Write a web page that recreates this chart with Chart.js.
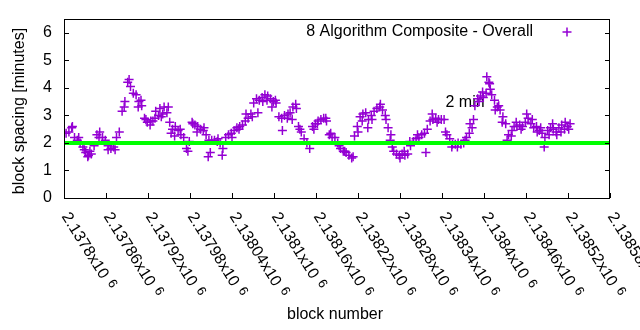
<!DOCTYPE html>
<html>
<head>
<meta charset="utf-8">
<title>block spacing</title>
<script src="https://cdn.jsdelivr.net/npm/chart.js@4"></script>
<style>
html, body { margin: 0; padding: 0; background: #fff; }
#wrap { width: 640px; height: 330px; position: relative; }
</style>
</head>
<body>
<div id="wrap"><canvas id="chart"></canvas></div>
<script>
// block numbers and spacing (minutes)
const mainBlocks = [
    2137803, 2137807, 2137811, 2137815, 2137819, 2137823, 2137827, 2137831, 2137835, 2137839,
    2137843, 2137847, 2137851, 2137855, 2137859, 2137863, 2137867, 2137871, 2137875, 2137879,
    2137883, 2137887, 2137891, 2137895, 2137899, 2137903, 2137907, 2137911, 2137915, 2137919,
    2137923, 2137927, 2137931, 2137935, 2137939, 2137943, 2137947, 2137951, 2137955, 2137959,
    2137963, 2137967, 2137971, 2137975, 2137979, 2137983, 2137987, 2137991, 2137995, 2137999,
    2138003, 2138007, 2138011, 2138015, 2138019, 2138023, 2138027, 2138031, 2138035, 2138039,
    2138043, 2138047, 2138051, 2138055, 2138059, 2138063, 2138067, 2138071, 2138075, 2138079,
    2138083, 2138087, 2138091, 2138095, 2138099, 2138103, 2138107, 2138111, 2138115, 2138119,
    2138123, 2138127, 2138131, 2138135, 2138139, 2138143, 2138147, 2138151, 2138155, 2138159,
    2138163, 2138167, 2138171, 2138175, 2138179, 2138183, 2138187, 2138191, 2138195, 2138199,
    2138203, 2138207, 2138211, 2138215, 2138219, 2138223, 2138227, 2138231, 2138235, 2138239,
    2138243, 2138247, 2138251, 2138255, 2138259, 2138263, 2138267, 2138271, 2138275, 2138279,
    2138283, 2138287, 2138291, 2138295, 2138299, 2138303, 2138307, 2138311, 2138315, 2138319,
    2138323, 2138327, 2138331, 2138335, 2138339, 2138343, 2138347, 2138351, 2138355, 2138359,
    2138363, 2138367, 2138371, 2138375, 2138379, 2138383, 2138387, 2138391, 2138395, 2138399,
    2138403, 2138407, 2138411, 2138415, 2138419, 2138423, 2138427, 2138431, 2138435, 2138439,
    2138443, 2138447, 2138451, 2138455, 2138459, 2138463, 2138467, 2138471, 2138475, 2138479,
    2138483, 2138487, 2138491, 2138495, 2138499, 2138503, 2138507, 2138511, 2138515, 2138519,
    2138523
];
const mainSpacing = [
    2.35, 2.4, 2.55, 2.2, 2.1, 2.0, 1.85, 1.65, 1.55, 1.6,
    1.9, 2.3, 2.4, 2.2, 2.1, 1.9, 1.8, 1.85, 2.2, 2.4,
    3.15, 3.5, 4.2, 4.05, 3.8, 3.75, 3.5, 3.35, 2.9, 2.75,
    2.65, 2.8, 3.15, 3.0, 2.95, 3.3, 3.1, 2.75, 2.5, 2.6,
    2.45, 2.3, 2.2, 1.8, 2.05, 2.75, 2.65, 2.6, 2.5, 2.45,
    2.3, 2.1, 2.1, 2.1, 2.05, 2.0, 1.8, 2.2, 2.3, 2.35,
    2.45, 2.55, 2.6, 2.65, 2.8, 2.9, 3.05, 3.45, 3.6, 3.55,
    3.65, 3.75, 3.7, 3.6, 3.5, 3.45, 2.95, 2.9, 3.0, 2.9,
    3.1, 3.3, 3.4, 2.6, 2.4, 2.15, 2.0, 1.8, 2.6, 2.7,
    2.8, 2.85, 2.9, 2.8, 2.3, 2.2, 2.2, 2.0, 1.8, 1.7,
    1.65, 1.55, 1.45, 2.25, 2.6, 2.95, 3.05, 3.1, 2.85, 3.0,
    3.15, 3.25, 3.3, 3.2, 3.0, 2.55, 2.3, 1.7, 1.6, 1.55,
    1.6, 1.55, 1.6, 1.9, 2.05, 2.15, 2.2, 2.3, 2.35, 2.5,
    2.8, 2.85, 2.9, 2.85, 2.85, 2.85, 2.3, 2.15, 1.95, 1.95,
    2.0, 1.95, 2.0, 2.2, 2.35, 2.55, 3.35, 3.6, 3.7, 3.65,
    3.8, 4.2, 3.75, 3.55, 3.3, 3.2, 2.95, 2.7, 2.3, 2.25,
    2.6, 2.6, 2.65, 2.6, 2.75, 2.9, 2.7, 2.55, 2.6, 2.45,
    2.35, 2.2, 2.45, 2.55, 2.5, 2.4, 2.55, 2.65, 2.5, 2.6,
    2.7
];
// the scatter around the main trace
const extraBlocks = [
    2137812, 2137821, 2137829, 2137834, 2137837, 2137850, 2137863, 2137873, 2137886, 2137893,
    2137906, 2137910, 2137917, 2137924, 2137930, 2137937, 2137941, 2137949, 2137953, 2137958,
    2137966, 2137977, 2137984, 2137990, 2138000, 2138006, 2138009, 2138020, 2138026, 2138040,
    2138050, 2138060, 2138069, 2138077, 2138084, 2138090, 2138097, 2138102, 2138112, 2138120,
    2138126, 2138132, 2138137, 2138157, 2138162, 2138174, 2138181, 2138193, 2138201, 2138213,
    2138220, 2138226, 2138234, 2138240, 2138252, 2138260, 2138266, 2138269, 2138280, 2138286,
    2138294, 2138305, 2138317, 2138326, 2138333, 2138345, 2138354, 2138362, 2138373, 2138380,
    2138385, 2138393, 2138398, 2138404, 2138408, 2138409, 2138416, 2138421, 2138426, 2138433,
    2138440, 2138446, 2138453, 2138461, 2138469, 2138476, 2138481, 2138486, 2138493, 2138498,
    2138504, 2138510, 2138516, 2138521
];
const extraSpacing = [
    2.6, 2.2, 1.75, 1.5, 1.7, 2.2, 1.75, 1.75, 3.3, 4.3,
    3.3, 3.55, 2.85, 2.8, 2.9, 3.25, 3.05, 3.3, 2.35, 2.25,
    2.5, 1.7, 2.7, 2.4, 2.55, 1.5, 1.65, 2.15, 1.55, 2.2,
    2.5, 3.05, 2.95, 3.1, 3.5, 3.55, 3.3, 3.55, 2.45, 3.05,
    2.85, 3.25, 2.5, 2.5, 2.7, 2.9, 2.35, 1.9, 1.7, 1.5,
    2.4, 2.8, 2.55, 2.85, 3.4, 2.85, 2.1, 1.85, 1.45, 1.7,
    2.05, 2.3, 1.65, 3.05, 2.75, 2.4, 1.85, 1.85, 2.1, 2.7,
    2.85, 3.5, 3.85, 4.4, 4.15, 3.95, 3.2, 3.35, 2.75, 2.1,
    2.45, 2.75, 2.5, 3.05, 2.85, 2.4, 2.55, 1.85, 2.3, 2.7,
    2.3, 2.4, 2.75, 2.5
];
// target line
const targetBlocks = [2137800, 2138580];
const targetSpacing = [2, 2];

const xTicks = [2137800, 2137860, 2137920, 2137980, 2138040, 2138100, 2138160,
    2138220, 2138280, 2138340, 2138400, 2138460, 2138520, 2138580];
const xTickLabels = ['2.1378', '2.13786', '2.13792', '2.13798', '2.13804', '2.1381', '2.13816',
    '2.13822', '2.13828', '2.13834', '2.1384', '2.13846', '2.13852', '2.13858'];
const yTicks = [0, 1, 2, 3, 4, 5, 6];

const seriesName = '8 Algorithm Composite - Overall';
const targetLabel = '2 min';
const targetLabelAt = { x: 2138345, y: 3.45 };

const FONT = '16px "Liberation Sans", Arial, sans-serif';
const PURPLE = '#9400d3';

function drawCross(ctx, x, y, r) {
    ctx.beginPath();
    ctx.moveTo(x - r, y); ctx.lineTo(x + r, y);
    ctx.moveTo(x, y - r); ctx.lineTo(x, y + r);
    ctx.stroke();
}

// gnuplot style frame, ticks, labels and key
const gnuplotFrame = {
    id: 'gnuplotFrame',
    beforeDatasetsDraw(chart) {
        const { ctx, scales: { x, y } } = chart;
        ctx.save();
        ctx.font = FONT;
        ctx.fillStyle = '#000';
        ctx.textAlign = 'left';
        ctx.textBaseline = 'middle';
        ctx.fillText(targetLabel, x.getPixelForValue(targetLabelAt.x), y.getPixelForValue(targetLabelAt.y));
        ctx.restore();
    },
    afterDraw(chart) {
        const { ctx, chartArea: a, scales: { x, y } } = chart;
        ctx.save();
        ctx.strokeStyle = '#000';
        ctx.lineWidth = 1;
        ctx.strokeRect(a.left + 0.5, a.top + 0.5, a.right - a.left - 1, a.bottom - a.top);

        ctx.beginPath();
        yTicks.forEach(v => {
            const py = Math.round(y.getPixelForValue(v)) + 0.5;
            ctx.moveTo(a.left, py); ctx.lineTo(a.left + 5, py);
            ctx.moveTo(a.right, py); ctx.lineTo(a.right - 5, py);
        });
        xTicks.forEach(v => {
            const px = Math.round(x.getPixelForValue(v)) + 0.5;
            ctx.moveTo(px, a.bottom); ctx.lineTo(px, a.bottom - 5);
        });
        ctx.stroke();

        ctx.fillStyle = '#000';
        ctx.font = FONT;
        ctx.textAlign = 'right';
        ctx.textBaseline = 'middle';
        yTicks.forEach(v => {
            ctx.fillText(String(v), a.left - 12, y.getPixelForValue(v));
        });

        // rotated x tick labels with exponent
        xTicks.forEach((v, i) => {
            const px = x.getPixelForValue(v);
            ctx.save();
            ctx.translate(px + 1, a.bottom + 16);
            ctx.rotate(Math.PI * 58 / 180);
            ctx.textAlign = 'left';
            ctx.font = FONT;
            const base = xTickLabels[i] + 'x10';
            ctx.fillText(base, 0, 0);
            const w = ctx.measureText(base).width;
            ctx.font = '13px "Liberation Sans", Arial, sans-serif';
            ctx.fillText('6', w + 6, -3);
            ctx.restore();
        });

        // axis titles
        ctx.font = FONT;
        ctx.textAlign = 'center';
        ctx.fillText('block number', 335, 315);
        ctx.save();
        ctx.translate(20, 111);
        ctx.rotate(-Math.PI / 2);
        ctx.fillText('block spacing [minutes]', 0, 0);
        ctx.restore();

        // key
        ctx.textAlign = 'right';
        ctx.fillText(seriesName, 533, 32);
        ctx.strokeStyle = PURPLE;
        ctx.lineWidth = 1.5;
        drawCross(ctx, 567, 32, 4.5);
        ctx.restore();
    }
};

const points = mainBlocks.map((b, i) => ({ x: b, y: mainSpacing[i] }))
    .concat(extraBlocks.map((b, i) => ({ x: b, y: extraSpacing[i] })));
const target = targetBlocks.map((b, i) => ({ x: b, y: targetSpacing[i] }));

new Chart(document.getElementById('chart'), {
    type: 'scatter',
    data: {
        datasets: [
            {
                label: targetLabel,
                type: 'line',
                data: target,
                borderColor: '#00ff00',
                borderWidth: 4,
                pointRadius: 0,
                fill: false
            },
            {
                label: seriesName,
                data: points,
                pointStyle: 'cross',
                pointRadius: 4.5,
                pointBorderWidth: 1.5,
                borderColor: PURPLE,
                backgroundColor: PURPLE
            }
        ]
    },
    options: {
        responsive: true,
        maintainAspectRatio: false,
        animation: false,
        devicePixelRatio: 1,
        layout: { padding: { top: 19, right: 30, left: 0, bottom: 0 } },
        plugins: {
            legend: { display: false },
            tooltip: { enabled: false }
        },
        scales: {
            x: {
                type: 'linear',
                min: 2137800,
                max: 2138580,
                grid: { display: false },
                border: { display: false },
                ticks: { display: false },
                afterFit: scale => { scale.height = 132; }
            },
            y: {
                min: 0,
                max: 6.5,
                grid: { display: false },
                border: { display: false },
                ticks: { display: false },
                afterFit: scale => { scale.width = 64; }
            }
        }
    },
    plugins: [gnuplotFrame]
});
</script>
</body>
</html>
